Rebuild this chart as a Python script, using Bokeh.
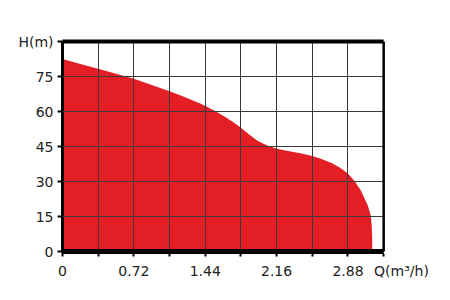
from bokeh.plotting import figure
from bokeh.models import Range1d, FixedTicker
from bokeh.embed import file_html
from bokeh.resources import INLINE

# Pump curve: flow Q (m3/h) vs head H (m)
flow = [0.0, 0.18, 0.36, 0.54, 0.72, 0.90, 1.08, 1.20, 1.29, 1.39, 1.44, 1.53, 1.63,
        1.72, 1.80, 1.88, 1.97, 2.06, 2.16, 2.30, 2.40, 2.50, 2.60, 2.72, 2.80,
        2.88, 2.95, 3.01, 3.05, 3.08, 3.11, 3.12, 3.125, 3.125]
head = [82.5, 80.4, 78.3, 76.2, 74.0, 71.4, 68.7, 66.8, 65.1, 63.4, 62.4, 60.4, 58.0,
        55.5, 53.0, 50.2, 47.4, 45.5, 44.0, 42.9, 42.1, 41.1, 39.9, 37.8, 35.9,
        33.4, 30.0, 26.1, 22.5, 19.7, 15.4, 11.0, 5.0, 0.0]

x_labels_at = [0, 0.72, 1.44, 2.16, 2.88]
x_grid_at = [0, 0.36, 0.72, 1.08, 1.44, 1.80, 2.16, 2.52, 2.88, 3.24]
x_max = 3.24
x_title_at = 3.42
x_title = "Q(m³/h)"
y_ticks = [0, 15, 30, 45, 60, 75, 90]
y_max = 90
y_label_top = "H(m)"

FONT = "DejaVu Sans"
TXT = "#222222"
GRID = "#3a3a3a"

p = figure(width=450, height=300, output_backend="svg", toolbar_location=None,
           x_range=Range1d(0, x_title_at), y_range=Range1d(0, y_max))
p.min_border_left = 62
p.min_border_right = 49
p.min_border_top = 41
p.min_border_bottom = 49
p.background_fill_color = "white"
p.border_fill_color = "white"
p.outline_line_color = None

p.varea(x=flow, y1=[0] * len(flow), y2=head, fill_color="#E31E24", fill_alpha=1.0)

# x axis: visible ticks are the "minor" ones, labels sit on invisible major ticks
p.xaxis.ticker = FixedTicker(ticks=x_labels_at + [x_title_at], minor_ticks=x_grid_at)
p.xaxis.major_label_overrides = {0: "0", x_title_at: x_title}
p.xaxis.axis_line_color = None
p.xaxis.major_tick_line_color = None
# y axis
p.yaxis.ticker = FixedTicker(ticks=y_ticks)
p.yaxis.major_label_overrides = {y_max: y_label_top}
p.yaxis.axis_line_color = "black"
p.yaxis.axis_line_width = 3
p.yaxis.major_tick_line_color = "black"
p.yaxis.major_tick_line_width = 2
p.yaxis.major_tick_in = 0
p.yaxis.major_tick_out = 5
p.yaxis.minor_tick_line_color = None

ax = p.xaxis[0]
ax.major_tick_in = 0
ax.major_tick_out = 5
ax.minor_tick_line_color = "black"
ax.minor_tick_line_width = 2
ax.minor_tick_in = 0
ax.minor_tick_out = 5
for a in (p.xaxis[0], p.yaxis[0]):
    a.major_label_text_font = FONT
    a.major_label_text_font_size = "14px"
    a.major_label_text_color = TXT
p.xaxis.major_label_standoff = 6
p.yaxis.major_label_standoff = 4

# grid above the fill
p.xgrid.grid_line_color = None
p.xgrid.minor_grid_line_color = GRID
p.xgrid.minor_grid_line_width = 1
p.xgrid.level = "annotation"
p.ygrid.grid_line_color = GRID
p.ygrid.grid_line_width = 1
p.ygrid.level = "annotation"

# blank strip right of the chart frame, then the frame lines
p.quad(left=[x_max], right=[x_title_at * 1.05], bottom=[-1], top=[y_max + 1],
       fill_color="white", line_color=None, level="overlay")
p.segment(x0=[x_max], y0=[0], x1=[x_max], y1=[y_max], line_color="black",
          line_width=2.5, level="overlay")
p.segment(x0=[0], y0=[y_max], x1=[x_max], y1=[y_max], line_color="black",
          line_width=4, level="overlay")
p.segment(x0=[0], y0=[0], x1=[x_max], y1=[0], line_color="black",
          line_width=5, level="overlay")

open("out.html", "w").write(file_html(p, INLINE))
